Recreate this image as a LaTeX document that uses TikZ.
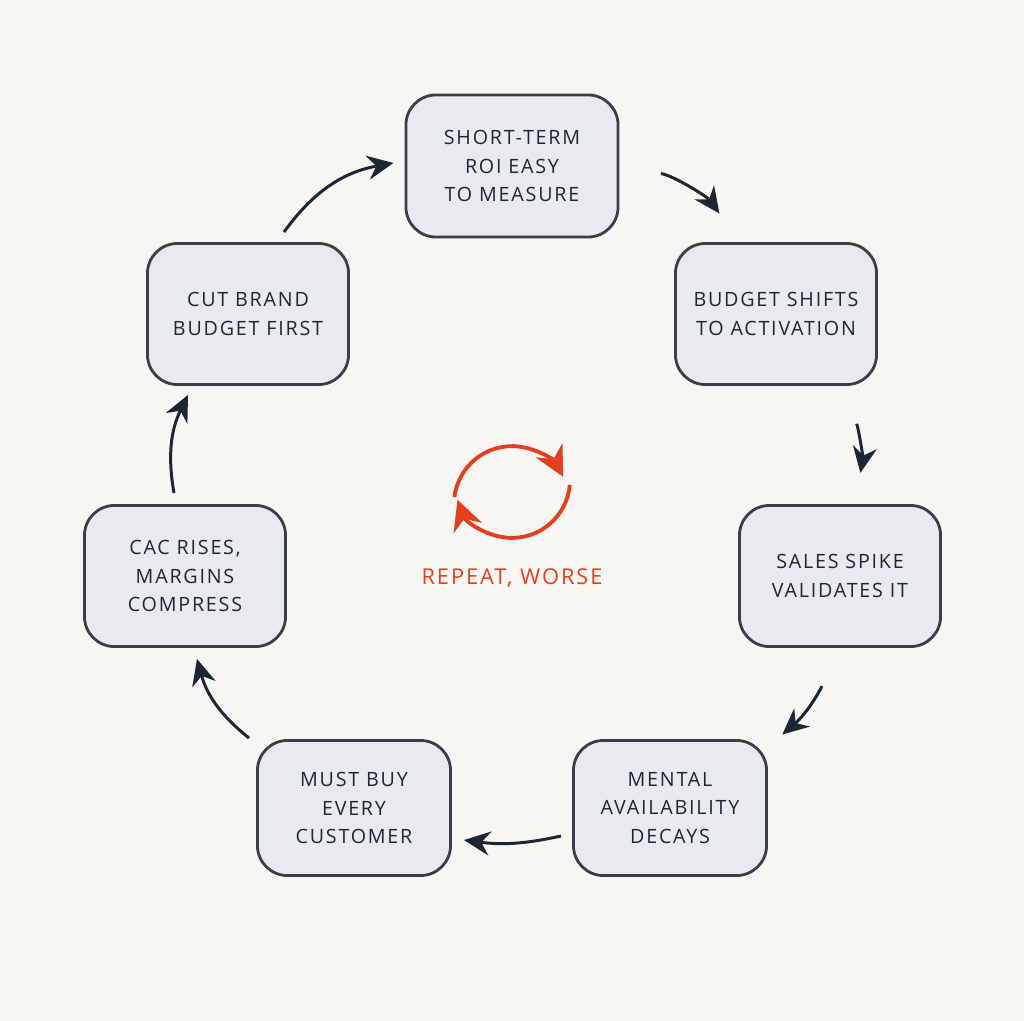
\documentclass[tikz,border=0pt]{standalone}
\usepackage{fontspec}
\newfontfamily\boxfont{Open Sans}[LetterSpace=9]
\usetikzlibrary{arrows.meta,positioning,calc}
\definecolor{bgcol}{HTML}{F8F6F3}
\definecolor{boxfill}{HTML}{E9EAEE}
\definecolor{boxline}{HTML}{3A3F47}
\definecolor{arrcol}{HTML}{1C2733}
\definecolor{loopred}{HTML}{E2401E}
\begin{document}
\begin{tikzpicture}[x=0.01cm,y=-0.01cm]
	\tikzstyle{Box}   = [draw=boxline, fill=boxfill, line width=0.8pt, rounded corners=3mm, align=center, text=arrcol, font=\boxfont\fontsize{5.6}{8}\selectfont, inner sep=0pt]
	\tikzstyle{Big}   = [Box, minimum width=2.12cm, minimum height=1.42cm]
	\tikzstyle{Mid}   = [Box, minimum width=2.01cm, minimum height=1.41cm]
	\tikzstyle{Small} = [Box, minimum width=1.93cm, minimum height=1.35cm]
	\tikzstyle{Flow}  = [arrcol, line width=0.85pt, -{Stealth[length=2.6mm,width=2.4mm]}]
	\tikzstyle{Loop}  = [loopred, line width=1.1pt, -{Stealth[length=3mm,width=3mm]}]

	\fill[bgcol] (0,0) rectangle (1024,1021);

	\node (b1) at (512,166) [Big]   {SHORT-TERM\\ROI EASY\\TO MEASURE};
	\node (b2) at (776,314) [Mid]   {BUDGET SHIFTS\\TO ACTIVATION};
	\node (b3) at (840,576) [Mid]   {SALES SPIKE\\VALIDATES IT};
	\node (b4) at (670,808) [Small] {MENTAL\\AVAILABILITY\\DECAYS};
	\node (b5) at (354,808) [Small] {MUST BUY\\EVERY\\CUSTOMER};
	\node (b6) at (185,576) [Mid]   {CAC RISES,\\MARGINS\\COMPRESS};
	\node (b7) at (248,314) [Mid]   {CUT BRAND\\BUDGET FIRST};

	\draw [Flow, shorten <=12, shorten >=10] (b1.east) to[bend left=22] ($(b2.north)+(-36,0)$);
	\draw [Flow, shorten <=12, shorten >=9] ($(b2.south)+(62,0)$) to[bend left=18] ($(b3.north)+(15,0)$);
	\draw [Flow, shorten <=11, shorten >=2] ($(b3.south)+(-12,0)$) to[bend left=20] ($(b4.north east)+(9,0)$);
	\draw [Flow] ($(b4.west)+(-11,28)$) to[bend left=10] ($(b5.east)+(12,32)$);
	\draw [Flow] ($(b5.north west)+(-7,-1)$) to[bend left=18] ($(b6.south)+(12,11)$);
	\draw [Flow] ($(b6.north)+(-11,-11)$) to[bend left=18] ($(b7.south)+(-60,9)$);
	\draw [Flow] ($(b7.north)+(36,-10)$) to[bend left=22] ($(b1.west)+(-11,-3)$);

	% center loop
	\coordinate (c) at (512,490);
	\draw [Loop] ($(c)+(173:58)$) arc[start angle=-173, end angle=-28, radius=58];
	\draw [Loop] ($(c)+(-5:58)$) arc[start angle=5, end angle=160, radius=58];
	\node (rep) at (512,578) [text=loopred, font=\boxfont\fontsize{6.2}{8}\selectfont] {REPEAT, WORSE};
\end{tikzpicture}
\end{document}
